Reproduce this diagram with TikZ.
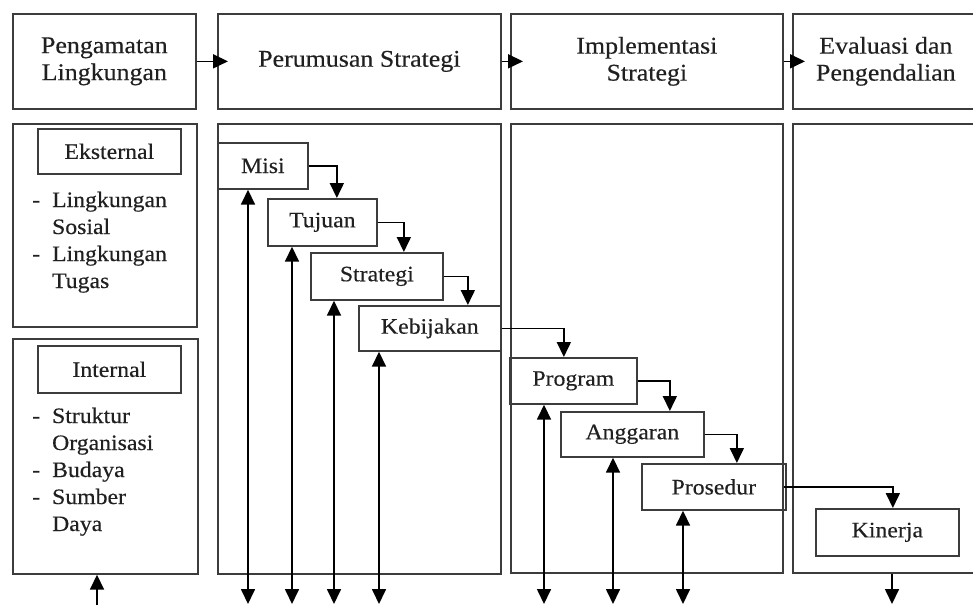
\documentclass[tikz,border=0pt]{standalone}
\usepackage{fontspec}
\setmainfont{Liberation Serif}[FakeStretch=1.08,UprightFeatures={FakeBold=0.35}]
\usetikzlibrary{arrows.meta}
\definecolor{frame}{HTML}{3C3C3C}
\definecolor{ink}{HTML}{202020}
\begin{document}
\begin{tikzpicture}[x=1pt,y=-1pt,
  base/.style={draw=frame, line width=1.7pt, inner sep=0pt, anchor=north west,
    text=ink, align=center},
  head/.style={base, font=\fontsize{24}{27}\selectfont},
  panel/.style={base},
  item/.style={base, font=\fontsize{22}{27}\selectfont},
  list/.style={inner sep=0pt, anchor=base west, text=ink,
    font=\fontsize{22}{27}\selectfont},
  arr/.style={draw=black, line width=1.7pt,
    -{Triangle[length=15pt,width=14pt]}},
  dbl/.style={draw=black, line width=1.7pt,
    {Triangle[length=15pt,width=14pt]}-{Triangle[length=15pt,width=14pt]}},
]
\useasboundingbox (0,0) rectangle (973,605);

% stage headers
\node[head, minimum width=183pt, minimum height=95pt] (b1) at (12,13) {Pengamatan\\Lingkungan};
\node[head, minimum width=283pt, minimum height=95pt] (b2) at (217,13) {Perumusan Strategi};
\node[head, minimum width=272pt, minimum height=95pt] (b3) at (510,13) {Implementasi\\Strategi};
\node[head, minimum width=186pt, minimum height=95pt] (b4) at (792,13) {Evaluasi dan\\Pengendalian};

\draw[arr] (b1.east) -- ([xshift=11pt]b2.west);
\draw[arr] (b2.east) -- ([xshift=13pt]b3.west);
\draw[arr] (b3.east) -- ([xshift=13pt]b4.west);

% stage panels
\node[panel, minimum width=184pt, minimum height=203pt] (pe) at (12,123) {};
\node[panel, minimum width=185pt, minimum height=235pt] (pi) at (12,338) {};
\node[panel, minimum width=283pt, minimum height=450pt] (pp) at (217,123) {};
\node[panel, minimum width=272pt, minimum height=449pt] (pm) at (510,123) {};
\node[panel, minimum width=186pt, minimum height=449pt] (pv) at (792,123) {};

% environmental scanning
\node[item, minimum width=143pt, minimum height=45pt] (eks) at (37,128) {Eksternal};
\node[list] (le) at (32,207) {\begin{tabular}[t]{@{}l@{\hspace{12pt}}l@{}}
-&Lingkungan\\ &Sosial\\ -&Lingkungan\\ &Tugas\end{tabular}};
\node[item, minimum width=143pt, minimum height=47pt] (int) at (37,345) {Internal};
\node[list] (li) at (32,423) {\begin{tabular}[t]{@{}l@{\hspace{12pt}}l@{}}
-&Struktur\\ &Organisasi\\ -&Budaya\\ -&Sumber\\ &Daya\end{tabular}};

% cascade of steps
\node[item, minimum width=90pt,  minimum height=46pt] (misi) at (217,142) {Misi};
\node[item, minimum width=109pt, minimum height=47pt] (tuj)  at (267,198) {Tujuan};
\node[item, minimum width=132pt, minimum height=47pt] (str)  at (310,252) {Strategi};
\node[item, minimum width=142pt, minimum height=45pt] (keb)  at (358,305) {Kebijakan};
\node[item, minimum width=127pt, minimum height=46pt] (prog) at (509,357) {Program};
\node[item, minimum width=143pt, minimum height=45pt] (ang)  at (560,411) {Anggaran};
\node[item, minimum width=144pt, minimum height=46pt] (pros) at (641,463) {Prosedur};
\node[item, minimum width=143pt, minimum height=47pt] (kin)  at (815,508) {Kinerja};

\draw[arr] (misi.east) -| ([xshift=14.5pt]tuj.north);
\draw[arr] (tuj.east)  -| ([xshift=27pt]str.north);
\draw[arr] (str.east)  -| ([xshift=38pt]keb.north);
\draw[arr] (keb.east)  -| ([xshift=-9.5pt]prog.north);
\draw[arr] (prog.east) -| ([xshift=37.5pt]ang.north);
\draw[arr] (ang.east)  -| ([xshift=23pt]pros.north);
\draw[arr] ([xshift=-3pt]pros.east) -| ([xshift=5.5pt]kin.north);

% feedback lines along the bottom
\coordinate (f0) at (97,605);
\coordinate (f1) at (248,604);
\coordinate (f2) at (292,604);
\coordinate (f3) at (334,604);
\coordinate (f4) at (379,604);
\coordinate (f5) at (544,604);
\coordinate (f6) at (613,604);
\coordinate (f7) at (683,604);
\coordinate (f8) at (892,604);

\draw[arr] (f0) -- (pi.south -| f0);
\draw[dbl] (misi.south -| f1) -- (f1);
\draw[dbl] (tuj.south -| f2) -- (f2);
\draw[dbl] (str.south -| f3) -- (f3);
\draw[dbl] (keb.south -| f4) -- (f4);
\draw[dbl] (prog.south -| f5) -- (f5);
\draw[dbl] (ang.south -| f6) -- (f6);
\draw[dbl] (pros.south -| f7) -- (f7);
\draw[arr] (pv.south -| f8) -- (f8);
\end{tikzpicture}
\end{document}
